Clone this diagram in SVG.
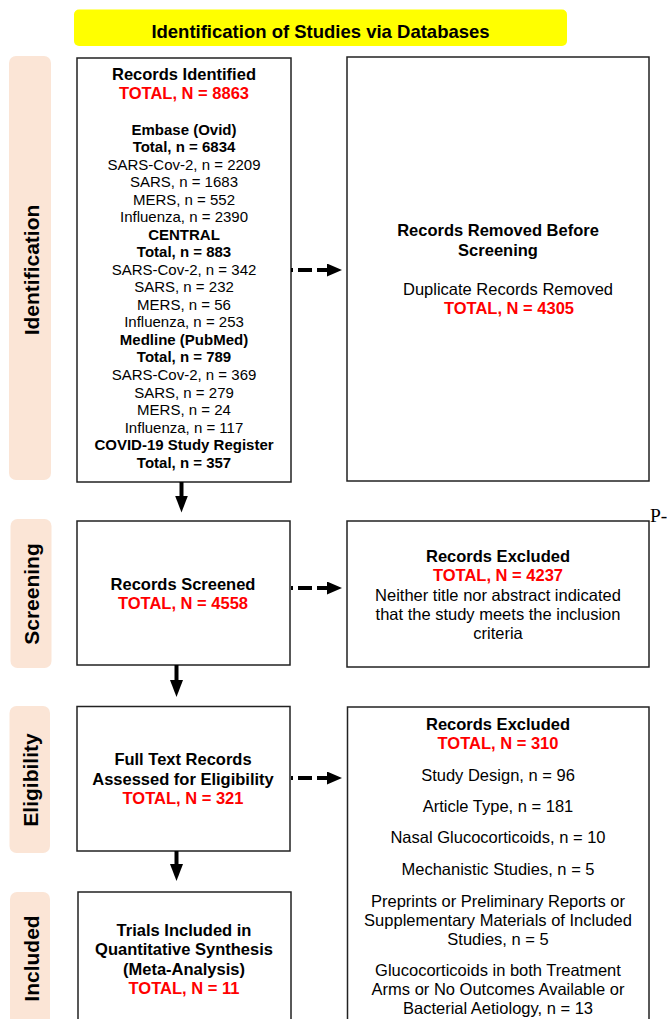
<svg xmlns="http://www.w3.org/2000/svg" width="667" height="1019" viewBox="0 0 667 1019">
<style>
text{font-family:"Liberation Sans",Arial,sans-serif;text-anchor:middle;fill:#000}
.b{font-weight:bold}
.h{font-size:16.5px;font-weight:bold}
.r{font-size:16.5px;font-weight:bold;fill:#FF0000}
.n{font-size:16.5px}
.s{font-size:15px}
.sb{font-size:15px;font-weight:bold}
.ph{font-size:21px;font-weight:bold}
.pill{fill:#FBE5D6}
.box{fill:#FFFFFF;stroke:#222222;stroke-width:1.5}
.solid{stroke:#000;stroke-width:4;fill:none}
.dash{stroke:#000;stroke-width:4;fill:none;stroke-dasharray:2 5 14 5 12}
</style>
<defs>
<marker id="ah" markerUnits="userSpaceOnUse" markerWidth="17" markerHeight="13" refX="1" refY="6.5" orient="auto">
<path d="M0,0 L17,6.5 L0,13 Z" fill="#000"/>
</marker>
<marker id="ahd" markerUnits="userSpaceOnUse" markerWidth="15" markerHeight="13" refX="1" refY="6.5" orient="auto">
<path d="M0,0 L15,6.5 L0,13 Z" fill="#000"/>
</marker>
</defs>

<g id="banner">
<rect x="74" y="9.5" width="493" height="36.5" rx="5" fill="#FFFF00"/>
<text x="320.5" y="37.5" style="font-size:18.5px;font-weight:bold">Identification of Studies via Databases</text>
</g>

<g id="phase-identification">
<rect class="pill" x="9" y="56" width="42" height="424" rx="7"/>
<text class="ph" transform="translate(39,270) rotate(-90)">Identification</text>
</g>
<g id="phase-screening">
<rect class="pill" x="10.5" y="519" width="41" height="149" rx="7"/>
<text class="ph" transform="translate(39,594) rotate(-90)">Screening</text>
</g>
<g id="phase-eligibility">
<rect class="pill" x="9.5" y="706" width="40.5" height="147" rx="7"/>
<text class="ph" transform="translate(38,780) rotate(-90)">Eligibility</text>
</g>
<g id="phase-included">
<rect class="pill" x="10" y="892" width="40" height="140" rx="7"/>
<text class="ph" transform="translate(39,958.5) rotate(-90)">Included</text>
</g>

<g id="records-identified">
<rect class="box" x="77" y="58" width="214" height="424"/>
<text class="h" x="184" y="80">Records Identified</text>
<text class="r" x="184" y="99">TOTAL, N = 8863</text>
<text class="sb" x="184" y="134.5">Embase (Ovid)</text>
<text class="sb" x="184" y="152">Total, n = 6834</text>
<text class="s" x="184" y="169.6">SARS-Cov-2, n = 2209</text>
<text class="s" x="184" y="187.1">SARS, n = 1683</text>
<text class="s" x="184" y="204.6">MERS, n = 552</text>
<text class="s" x="184" y="222.2">Influenza, n = 2390</text>
<text class="sb" x="184" y="239.7">CENTRAL</text>
<text class="sb" x="184" y="257.2">Total, n = 883</text>
<text class="s" x="184" y="274.7">SARS-Cov-2, n = 342</text>
<text class="s" x="184" y="292.3">SARS, n = 232</text>
<text class="s" x="184" y="309.8">MERS, n = 56</text>
<text class="s" x="184" y="327.3">Influenza, n = 253</text>
<text class="sb" x="184" y="344.9">Medline (PubMed)</text>
<text class="sb" x="184" y="362.4">Total, n = 789</text>
<text class="s" x="184" y="379.9">SARS-Cov-2, n = 369</text>
<text class="s" x="184" y="397.5">SARS, n = 279</text>
<text class="s" x="184" y="415">MERS, n = 24</text>
<text class="s" x="184" y="432.5">Influenza, n = 117</text>
<text class="sb" x="184" y="450">COVID-19 Study Register</text>
<text class="sb" x="184" y="467.6">Total, n = 357</text>
</g>

<g id="records-removed">
<rect class="box" x="347" y="57" width="302" height="424"/>
<text class="h" x="498" y="236">Records Removed Before</text>
<text class="h" x="498" y="256">Screening</text>
<text class="n" x="508" y="295">Duplicate Records Removed</text>
<text class="r" x="509" y="314">TOTAL, N = 4305</text>
</g>

<g id="records-screened">
<rect class="box" x="77" y="521" width="213" height="144"/>
<text class="h" x="183" y="590">Records Screened</text>
<text class="r" x="183" y="609">TOTAL, N = 4558</text>
</g>

<g id="records-excluded-1">
<rect class="box" x="347" y="521" width="302" height="146"/>
<text class="h" x="498" y="562">Records Excluded</text>
<text class="r" x="498" y="581">TOTAL, N = 4237</text>
<text class="n" x="498" y="601">Neither title nor abstract indicated</text>
<text class="n" x="498" y="620">that the study meets the inclusion</text>
<text class="n" x="498" y="639">criteria</text>
</g>

<g id="page-mark">
<text x="650" y="522" style="font-family:'Liberation Serif','Times New Roman',serif;font-size:19.5px;text-anchor:start">P-</text>
</g>

<g id="full-text">
<rect class="box" x="77" y="706.5" width="213" height="144.5"/>
<text class="h" x="183" y="765">Full Text Records</text>
<text class="h" x="183" y="784.5">Assessed for Eligibility</text>
<text class="r" x="183" y="804">TOTAL, N = 321</text>
</g>

<g id="records-excluded-2">
<rect class="box" x="347.5" y="707" width="301.5" height="330"/>
<text class="h" x="498" y="730">Records Excluded</text>
<text class="r" x="498" y="749">TOTAL, N = 310</text>
<text class="n" x="498" y="781">Study Design, n = 96</text>
<text class="n" x="498" y="812">Article Type, n = 181</text>
<text class="n" x="498" y="842.7">Nasal Glucocorticoids, n = 10</text>
<text class="n" x="498" y="875">Mechanistic Studies, n = 5</text>
<text class="n" x="498" y="906.7">Preprints or Preliminary Reports or</text>
<text class="n" x="498" y="926">Supplementary Materials of Included</text>
<text class="n" x="498" y="944.5">Studies, n = 5</text>
<text class="n" x="498" y="976">Glucocorticoids in both Treatment</text>
<text class="n" x="498" y="995">Arms or No Outcomes Available or</text>
<text class="n" x="498" y="1014">Bacterial Aetiology, n = 13</text>
</g>

<g id="included">
<rect class="box" x="78" y="892" width="213" height="140"/>
<text class="h" x="184" y="936">Trials Included in</text>
<text class="h" x="184" y="955">Quantitative Synthesis</text>
<text class="h" x="184" y="974.5">(Meta-Analysis)</text>
<text class="r" x="184" y="994">TOTAL, N = 11</text>
</g>

<g id="connectors">
<line class="solid" x1="181.5" y1="482" x2="181.5" y2="496.5" marker-end="url(#ah)"/>
<line class="solid" x1="176.5" y1="665" x2="176.5" y2="681" marker-end="url(#ah)"/>
<line class="solid" x1="176.5" y1="851" x2="176.5" y2="865" marker-end="url(#ah)"/>
<line class="dash" x1="291" y1="270" x2="328" y2="270" marker-end="url(#ahd)"/>
<line class="dash" x1="291" y1="588" x2="328" y2="588" marker-end="url(#ahd)"/>
<line class="dash" x1="291" y1="778" x2="328" y2="778" marker-end="url(#ahd)"/>
</g>
</svg>
